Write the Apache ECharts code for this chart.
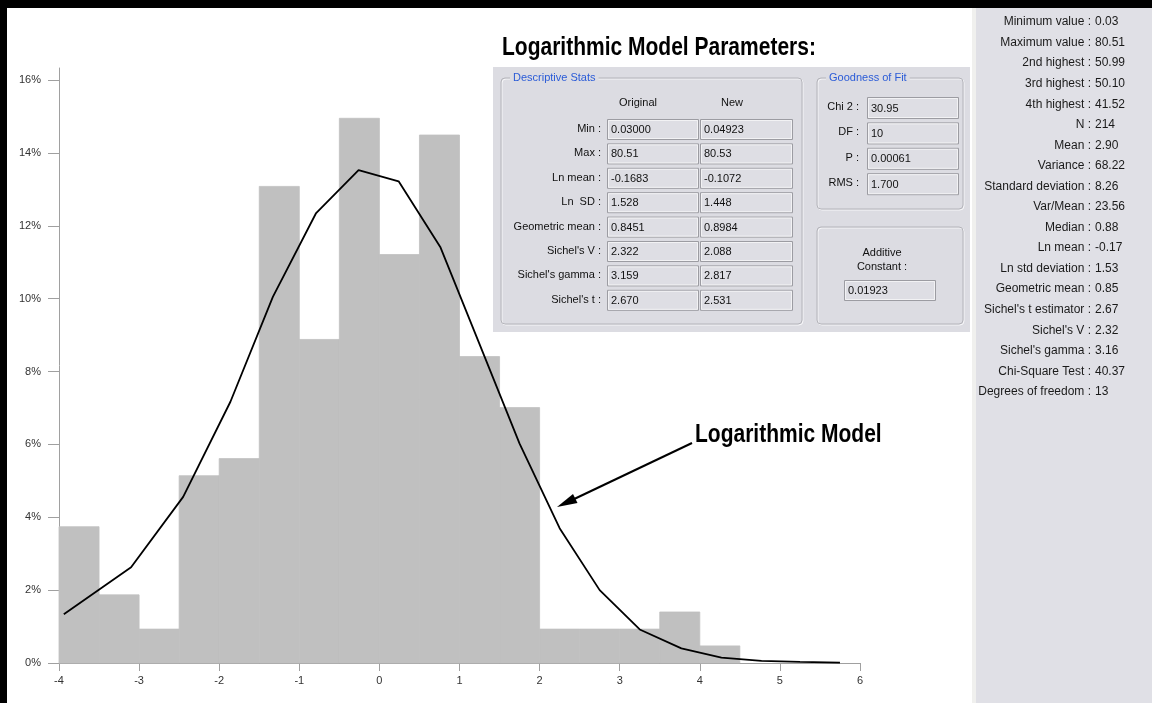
<!DOCTYPE html>
<html><head><meta charset="utf-8">
<script src="https://cdn.jsdelivr.net/npm/echarts@6/dist/echarts.min.js"></script>
<style>html,body{margin:0;padding:0;background:#fff}#c{width:1152px;height:703px}</style>
</head><body><div id="c"></div>
<script>
// ---- data ----
const binStart = [-4,-3.5,-3,-2.5,-2,-1.5,-1,-0.5,0,0.5,1,1.5,2,2.5,3,3.5,4];
const binWidth = 0.5;
const binPct = [3.74,1.87,0.93,5.14,5.61,13.08,8.88,14.95,11.21,14.49,8.41,7.01,0.93,0.93,0.93,1.40,0.47];
const modelX = [-3.94,-3.10,-2.45,-1.86,-1.33,-0.79,-0.26,0.24,0.76,1.25,1.75,2.25,2.75,3.25,3.77,4.27,4.77,5.25,5.75];
const modelY = [1.34,2.63,4.56,7.17,10.05,12.35,13.53,13.22,11.42,8.75,6.02,3.70,2.00,0.92,0.40,0.15,0.06,0.03,0.01];
const yTicks = [0,2,4,6,8,10,12,14,16];

const descLabels = ['Min :','Max :','Ln mean :','Ln  SD :','Geometric mean :',"Sichel's V :","Sichel's gamma :","Sichel's t :"];
const descOriginal = ['0.03000','80.51','-0.1683','1.528','0.8451','2.322','3.159','2.670'];
const descNew = ['0.04923','80.53','-0.1072','1.448','0.8984','2.088','2.817','2.531'];
const fitLabels = ['Chi 2 :','DF :','P :','RMS :'];
const fitValues = ['30.95','10','0.00061','1.700'];
const additiveConstant = '0.01923';
const statLabels = ['Minimum value :','Maximum value :','2nd highest :','3rd highest :','4th highest :','N :','Mean :','Variance :','Standard deviation :','Var/Mean :','Median :','Ln mean :','Ln std deviation :','Geometric mean :',"Sichel's t estimator :","Sichel's V :","Sichel's gamma :",'Chi-Square Test :','Degrees of freedom :'];
const statValues = ['0.03','80.51','50.99','50.10','41.52','214','2.90','68.22','8.26','23.56','0.88','-0.17','1.53','0.85','2.67','2.32','3.16','40.37','13'];

// ---- styling helpers ----
const UI_FONT = '11px "Liberation Sans", Arial, sans-serif';
const STAT_FONT = '12px "Liberation Sans", Arial, sans-serif';
const PANEL = '#dcdce2';
const BIG_FONT = 'bold 25px "Liberation Sans", Arial, sans-serif';

const g = [];
// frame
g.push({type:'rect', shape:{x:0,y:0,width:1152,height:8}, style:{fill:'#000'}});
g.push({type:'rect', shape:{x:0,y:0,width:7,height:703}, style:{fill:'#000'}});
// right stats panel
g.push({type:'rect', shape:{x:972,y:8,width:4,height:695}, style:{fill:'#f0f0ee'}});
g.push({type:'rect', shape:{x:976,y:8,width:176,height:695}, style:{fill:'#e0e0e6'}});
statLabels.forEach((l,i)=>{
  const y = 22 + i*20.55;
  g.push({type:'text', x:1091, y:y, style:{text:l, align:'right', verticalAlign:'middle', font:STAT_FONT, fill:'#1a1a1a'}});
  g.push({type:'text', x:1095, y:y, style:{text:statValues[i], align:'left', verticalAlign:'middle', font:STAT_FONT, fill:'#1a1a1a'}});
});

// title (bold, horizontally condensed)
g.push({type:'text', x:502, y:48, scaleX:0.84, style:{text:'Logarithmic Model Parameters:', align:'left', verticalAlign:'middle', font:BIG_FONT, fill:'#000'}});

// middle panel
g.push({type:'rect', shape:{x:493,y:67,width:477,height:265}, style:{fill:PANEL}});
function groupBox(x,y,w,h){
  g.push({type:'rect', shape:{x:x+1,y:y+1,width:w,height:h,r:4}, style:{fill:'none', stroke:'#f6f6f8', lineWidth:1}});
  g.push({type:'rect', shape:{x:x,y:y,width:w,height:h,r:4}, style:{fill:'none', stroke:'#b4b4ba', lineWidth:1}});
}
function box(x,y,w,h,t){
  g.push({type:'rect', shape:{x:x+0.5,y:y+0.5,width:w,height:h}, style:{fill:'#dedee4', stroke:'#9c9ca2', lineWidth:1}});
  g.push({type:'rect', shape:{x:x+1.5,y:y+1.5,width:w-2,height:h-2}, style:{fill:'none', stroke:'#f2f2f4', lineWidth:1}});
  g.push({type:'text', x:x+4, y:y+h/2+1, style:{text:t, align:'left', verticalAlign:'middle', font:UI_FONT, fill:'#111'}});
}
function txt(x,y,t,align,fill){
  g.push({type:'text', x:x, y:y, style:{text:t, align:align||'left', verticalAlign:'middle', font:UI_FONT, fill:fill||'#111'}});
}
groupBox(501,78,301,246);
g.push({type:'text', x:510, y:78, z:10, style:{text:'Descriptive Stats', align:'left', verticalAlign:'middle', font:UI_FONT, fill:'#2a5bd7', backgroundColor:PANEL, padding:[1,3]}});
txt(638,103,'Original','center');
txt(732,103,'New','center');
descLabels.forEach((l,i)=>{
  const y = 129 + i*24.4;
  txt(601,y,l,'right');
  box(607,y-10,91,20,descOriginal[i]);
  box(700,y-10,92,20,descNew[i]);
});
groupBox(817,78,146,131);
g.push({type:'text', x:826, y:78, z:10, style:{text:'Goodness of Fit', align:'left', verticalAlign:'middle', font:UI_FONT, fill:'#2a5bd7', backgroundColor:PANEL, padding:[1,3]}});
fitLabels.forEach((l,i)=>{
  const y = 107 + i*25.4;
  txt(859,y,l,'right');
  box(867,y-10,91,21,fitValues[i]);
});
groupBox(817,227,146,97);
txt(882,253,'Additive','center');
txt(882,267,'Constant :','center');
box(844,280,91,20,additiveConstant);

// annotation
g.push({type:'text', x:695, y:435, scaleX:0.84, style:{text:'Logarithmic Model', align:'left', verticalAlign:'middle', font:BIG_FONT, fill:'#000'}});
g.push({type:'line', shape:{x1:692,y1:443,x2:570,y2:501}, style:{stroke:'#000', lineWidth:2}});
g.push({type:'polygon', shape:{points:[[557,507],[577.5,503],[573,494]]}, style:{fill:'#000'}});

const chart = echarts.init(document.getElementById('c'), null, {renderer:'canvas'});
chart.setOption({
  animation:false,
  backgroundColor:'#fff',
  grid:{left:59, right:292, top:68, bottom:40, containLabel:false},
  xAxis:{type:'value', min:-4, max:6, interval:1,
    axisLine:{onZero:false, lineStyle:{color:'#a0a0a0'}},
    axisTick:{length:8, lineStyle:{color:'#a0a0a0'}},
    axisLabel:{color:'#333', fontSize:11, margin:12, fontFamily:'"Liberation Sans", Arial, sans-serif'},
    splitLine:{show:false}},
  yAxis:{type:'value', min:0, max:16.33,
    axisLine:{show:true, onZero:false, lineStyle:{color:'#a0a0a0'}},
    axisTick:{show:true, length:11, customValues:yTicks, lineStyle:{color:'#a0a0a0'}},
    axisLabel:{color:'#333', fontSize:11, margin:18, customValues:yTicks, formatter:v=>v+'%', fontFamily:'"Liberation Sans", Arial, sans-serif'},
    splitLine:{show:false}},
  series:[
    {type:'custom', z:2,
     data: binStart.map((s,i)=>[s, s+binWidth, binPct[i]]),
     encode:{x:[0,1], y:2},
     renderItem:(params, api)=>{
       const p0 = api.coord([api.value(0), api.value(2)]);
       const p1 = api.coord([api.value(1), 0]);
       return {type:'rect', shape:{x:p0[0], y:p0[1], width:p1[0]-p0[0], height:p1[1]-p0[1]},
               style:{fill:'#c0c0c0', stroke:'#c0c0c0', lineWidth:0.8}};
     }},
    {type:'line', z:3, data: modelX.map((x,i)=>[x, modelY[i]]), showSymbol:false, symbol:'none',
     lineStyle:{color:'#000', width:1.8}}
  ],
  graphic: g
});
</script>
</body></html>
